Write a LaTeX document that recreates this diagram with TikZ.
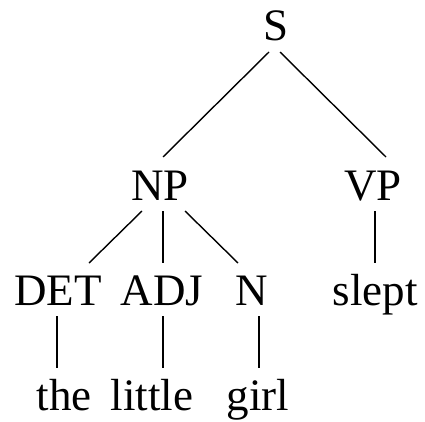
\documentclass[tikz,border=0pt]{standalone}
\usepackage{fontspec}
\setmainfont{Liberation Serif}
\begin{document}
\begin{tikzpicture}[x=1pt,y=-1pt,
  lbl/.style={anchor=base,inner sep=0pt,font=\fontsize{45}{52}\selectfont},
  edge/.style={line width=1.4pt}]
\useasboundingbox (0,0) rectangle (425,422);
\node[lbl] (S) at (276,41) {S};
\node[lbl] (NP) at (160,200) {NP};
\node[lbl] (VP) at (373,200) {VP};
\node[lbl] (DET) at (58,305) {DET};
\node[lbl] (ADJ) at (162,305) {ADJ};
\node[lbl] (N) at (252,305) {N};
\node[lbl] (slept) at (375,305) {slept};
\node[lbl] (the) at (64,410) {the};
\node[lbl] (little) at (152,410) {little};
\node[lbl] (girl) at (258,410) {girl};
% connector ends
\coordinate (s1) at (269,52); \coordinate (np0) at (163,157);
\coordinate (s2) at (280,52); \coordinate (vp0) at (386,157);
\coordinate (np1) at (142,211); \coordinate (det0) at (89,263);
\coordinate (np2) at (163,211); \coordinate (adj0) at (163,263);
\coordinate (np3) at (185,211); \coordinate (n0) at (238,263);
\coordinate (vp1) at (375,211); \coordinate (sl0) at (375,263);
\coordinate (det1) at (57,316); \coordinate (the0) at (57,368);
\coordinate (adj1) at (163,316); \coordinate (lit0) at (163,368);
\coordinate (n1) at (259,316); \coordinate (girl0) at (259,368);
\draw[edge] (s1) -- (np0);
\draw[edge] (s2) -- (vp0);
\draw[edge] (np1) -- (det0);
\draw[edge] (np2) -- (adj0);
\draw[edge] (np3) -- (n0);
\draw[edge] (vp1) -- (sl0);
\draw[edge] (det1) -- (the0);
\draw[edge] (adj1) -- (lit0);
\draw[edge] (n1) -- (girl0);
\end{tikzpicture}
\end{document}
